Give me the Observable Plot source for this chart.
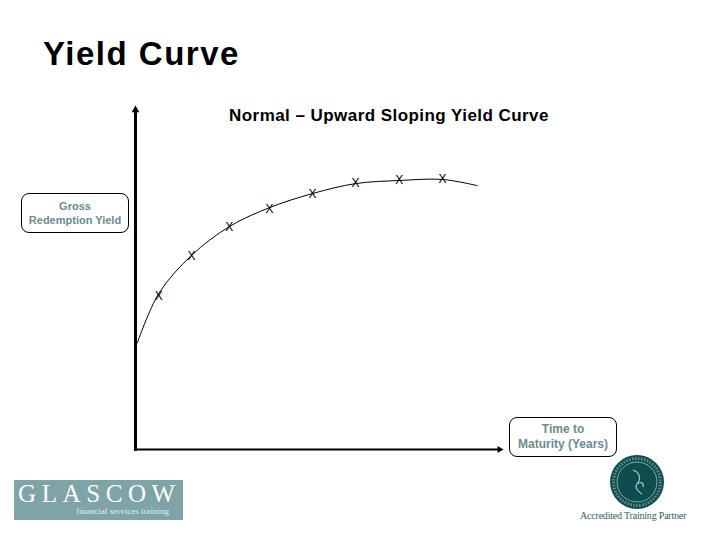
<!DOCTYPE html>
<html>
<head>
<meta charset="utf-8">
<script src="https://cdn.jsdelivr.net/npm/d3@7"></script>
<script src="https://cdn.jsdelivr.net/npm/@observablehq/plot@0.6"></script>
<style>
  html, body { margin: 0; padding: 0; background: #fff; }
  #wrap { position: relative; width: 720px; height: 540px; overflow: hidden; font-family: Arial, "Liberation Sans", sans-serif; }
  #chart { position: absolute; left: 0; top: 0; }
  .abs { position: absolute; white-space: nowrap; }
  #title { left: 43px; top: 37px; font-size: 33px; letter-spacing: 1.5px; font-weight: bold; line-height: 33px; color: #000; }
  #subtitle { left: 229px; top: 106px; font-size: 17px; font-weight: bold; letter-spacing: 0.45px; line-height: 20px; color: #000; }
  .box { border: 1px solid #000; border-radius: 8px; color: #6b8b90; font-weight: bold; text-align: center; box-sizing: border-box; display: flex; flex-direction: column; justify-content: center; }
  #ylab { left: 21px; top: 193px; width: 108px; height: 40px; font-size: 11px; line-height: 14px; }
  #xlab { left: 509px; top: 417px; width: 108px; height: 40px; font-size: 12px; line-height: 15px; }
  #glasgow { left: 14px; top: 480px; width: 169px; height: 40px; background: #7fa4a7; overflow: hidden; }
  #glasgow .big { position: absolute; left: 4px; top: 1px; font-family: "Liberation Serif", "DejaVu Serif", serif; font-size: 25px; line-height: 25px; letter-spacing: 5.6px; color: #fff; }
  #glasgow .small { position: absolute; left: 62px; top: 26px; font-family: "Liberation Serif", serif; font-size: 9px; line-height: 11px; color: #e3ecec; letter-spacing: 0px; }
  #accr { left: 580px; top: 510px; font-family: "Liberation Serif", serif; font-size: 10px; color: #2f5f66; letter-spacing: -0.2px; }
  #seal { left: 609px; top: 454px; }
</style>
</head>
<body>
<div id="wrap">
  <div id="chart"></div>
  <div id="title" class="abs">Yield Curve</div>
  <div id="subtitle" class="abs">Normal – Upward Sloping Yield Curve</div>
  <div id="ylab" class="abs box"><div>Gross</div><div>Redemption Yield</div></div>
  <div id="xlab" class="abs box"><div>Time to</div><div>Maturity (Years)</div></div>
  <div id="glasgow" class="abs"><div class="big">GLASCOW</div><div class="small">financial services training</div></div>
  <svg id="seal" class="abs" width="56" height="56" viewBox="0 0 56 56">
    <circle cx="28" cy="28" r="27" fill="#0f4c4e"/>
    <circle cx="28" cy="28" r="20" fill="none" stroke="#9fbcbc" stroke-width="0.8"/>
    <circle cx="28" cy="28" r="23.5" fill="none" stroke="#5f8e8e" stroke-width="3" stroke-dasharray="1.5 1.5"/>
    <path d="M24 16 C30 18 33 24 28 30 C25 34 30 38 33 40 M28 30 C32 27 35 29 34 33" fill="none" stroke="#a9c6c4" stroke-width="1.2"/>
  </svg>
  <div id="accr" class="abs">Accredited Training Partner</div>
</div>
<script>
// Yield curve data (maturity in years, yield in arbitrary %)
const curveMaturity = [0.05, 0.63, 1.52, 2.55, 3.64, 4.81, 5.98, 7.17, 8.34, 9.29];
const curveYield    = [3.10, 4.53, 5.64, 6.48, 7.03, 7.44, 7.73, 7.82, 7.85, 7.67];
const markerMaturity = [0.63, 1.52, 2.55, 3.64, 4.81, 5.98, 7.17, 8.34];
const markerYield    = [4.45, 5.62, 6.45, 7.00, 7.42, 7.74, 7.82, 7.86];
const markerLabel = "X";
const axisMax = 10;

const curve = curveMaturity.map((m, i) => ({m, y: curveYield[i]}));
const markers = markerMaturity.map((m, i) => ({m, y: markerYield[i]}));

const chart = Plot.plot({
  width: 720,
  height: 540,
  marginLeft: 135,
  marginRight: 217,
  marginTop: 105,
  marginBottom: 91,
  x: {domain: [0, axisMax], axis: null},
  y: {domain: [0, axisMax], axis: null},
  style: {background: "transparent", overflow: "visible"},
  marks: [
    Plot.ruleX([0], {y1: -0.06, y2: axisMax - 0.15, stroke: "black", strokeWidth: 3}),
    Plot.ruleY([0], {x1: 0, x2: axisMax - 0.12, stroke: "black", strokeWidth: 2}),
    Plot.dot([axisMax], {x: 0, y: d => d, symbol: "triangle", r: 2.9, fill: "black", stroke: null, dy: 4.5}),
    Plot.dot([axisMax], {x: d => d, y: 0, symbol: "triangle", r: 2.6, fill: "black", stroke: null, rotate: 90, dx: -4}),
    Plot.line(curve, {x: "m", y: "y", curve: "catmull-rom", stroke: "black", strokeWidth: 1}),
    Plot.text(markers, {x: "m", y: "y", text: () => markerLabel, fontSize: 12, fontFamily: "Arial, Liberation Sans, sans-serif", fill: "black"})
  ]
});
document.getElementById("chart").appendChild(chart);
</script>
</body>
</html>
